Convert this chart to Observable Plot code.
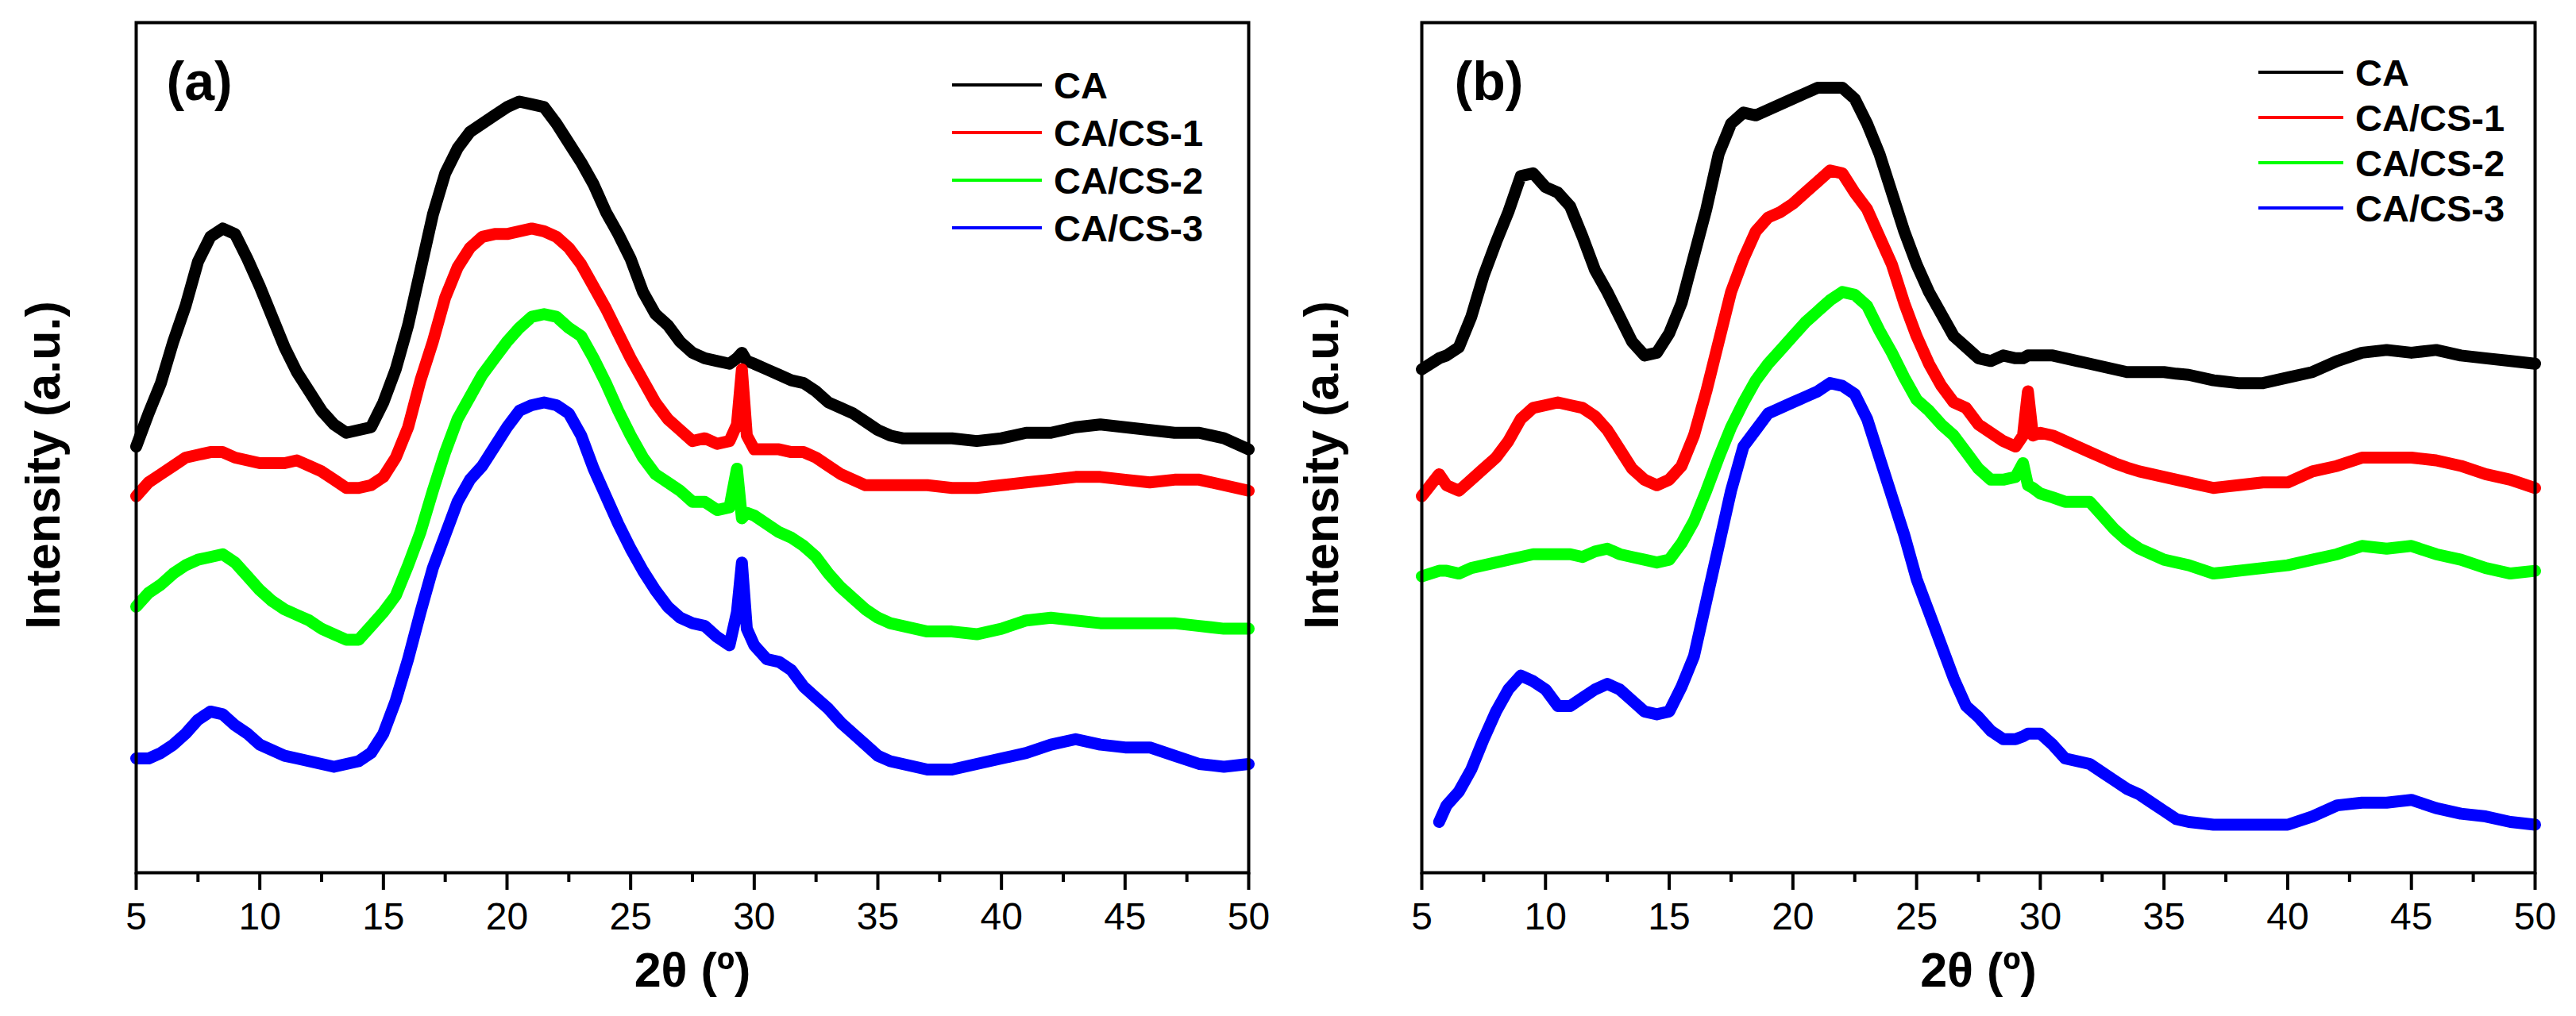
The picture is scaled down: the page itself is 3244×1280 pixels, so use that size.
<!DOCTYPE html>
<html>
<head>
<meta charset="utf-8">
<script src="https://cdn.jsdelivr.net/npm/d3@7"></script>
<script src="https://cdn.jsdelivr.net/npm/@observablehq/plot@0.6"></script>
<style>
  body { margin: 0; background: #fff; }
  #figure { display: flex; width: 3244px; }
</style>
</head>
<body>
<div id="figure"></div>
<script>
const SERIES = ["CA", "CA/CS-1", "CA/CS-2", "CA/CS-3"];
const COLORS = ["#000000", "#ff0000", "#00ff00", "#0000ff"];

const MAJOR_TICKS = [5, 10, 15, 20, 25, 30, 35, 40, 45, 50];
const MINOR_TICKS = [7.5, 12.5, 17.5, 22.5, 27.5, 32.5, 37.5, 42.5, 47.5];

// 2θ sampling; the extra points around 29.5 catch the sharp peak
const thetaA = [5, 5.5, 6, 6.5, 7, 7.5, 8, 8.5, 9, 9.5, 10, 10.5, 11, 11.5, 12, 12.5, 13, 13.5, 14, 14.5,
  15, 15.5, 16, 16.5, 17, 17.5, 18, 18.5, 19, 19.5, 20, 20.5, 21, 21.5, 22, 22.5, 23, 23.5, 24, 24.5,
  25, 25.5, 26, 26.5, 27, 27.5, 28, 28.5, 29, 29.3, 29.5, 29.7, 30, 30.5, 31, 31.5, 32, 32.5, 33, 33.5,
  34, 34.5, 35, 35.5, 36, 37, 38, 39, 40, 41, 42, 43, 44, 45, 46, 47, 48, 49, 50];

// panel (b) starts its blue trace a bit later, so 5.5 is swapped for 5.7
const thetaB = [5, 5.7, 6, 6.5, 7, 7.5, 8, 8.5, 9, 9.5, 10, 10.5, 11, 11.5, 12, 12.5, 13, 13.5, 14, 14.5,
  15, 15.5, 16, 16.5, 17, 17.5, 18, 18.5, 19, 19.5, 20, 20.5, 21, 21.5, 22, 22.5, 23, 23.5, 24, 24.5,
  25, 25.5, 26, 26.5, 27, 27.5, 28, 28.5, 29, 29.3, 29.5, 29.7, 30, 30.5, 31, 31.5, 32, 32.5, 33, 33.5,
  34, 34.5, 35, 35.5, 36, 37, 38, 39, 40, 41, 42, 43, 44, 45, 46, 47, 48, 49, 50];

// intensities (a.u., stacked offsets as in the figure)
const caA = [772, 832, 887, 962, 1027, 1107, 1152, 1167, 1157, 1112, 1062, 1007, 952, 907, 872, 837, 812, 797, 802, 807,
  852, 912, 992, 1092, 1192, 1267, 1312, 1342, 1357, 1372, 1387, 1397, 1392, 1387, 1357, 1322, 1287, 1247, 1197, 1157,
  1112, 1052, 1012, 992, 962, 942, 932, 927, 922, 932, 942, 927, 922, 912, 902, 892, 887, 872, 852, 842,
  832, 817, 802, 792, 787, 787, 787, 782, 787, 797, 797, 807, 812, 807, 802, 797, 797, 787, 767];
const cs1A = [682, 707, 722, 737, 752, 757, 762, 762, 752, 747, 742, 742, 742, 747, 737, 727, 712, 697, 697, 702,
  717, 752, 807, 892, 962, 1042, 1097, 1132, 1152, 1157, 1157, 1162, 1167, 1162, 1152, 1132, 1102, 1062, 1022, 977,
  932, 892, 852, 822, 802, 782, 787, 777, 782, 812, 912, 792, 767, 767, 767, 762, 762, 752, 737, 722,
  712, 702, 702, 702, 702, 702, 697, 697, 702, 707, 712, 717, 717, 712, 707, 712, 712, 702, 692];
const cs2A = [482, 507, 522, 542, 557, 567, 572, 577, 562, 537, 512, 492, 477, 467, 457, 442, 432, 422, 422, 447,
  472, 502, 557, 617, 692, 762, 822, 862, 902, 932, 962, 987, 1007, 1012, 1007, 987, 972, 932, 887, 837,
  792, 752, 722, 707, 692, 672, 672, 657, 662, 732, 642, 652, 647, 632, 617, 607, 592, 572, 542, 517,
  497, 477, 462, 452, 447, 437, 437, 432, 442, 457, 462, 457, 452, 452, 452, 452, 447, 442, 442];
const cs3A = [207, 207, 217, 232, 252, 277, 292, 287, 267, 252, 232, 222, 212, 207, 202, 197, 192, 197, 202, 217,
  252, 312, 387, 472, 552, 612, 672, 712, 737, 772, 807, 837, 847, 852, 847, 832, 792, 732, 682, 632,
  587, 547, 512, 482, 462, 452, 447, 427, 412, 472, 562, 442, 412, 387, 382, 367, 337, 317, 297, 272,
  252, 232, 212, 202, 197, 187, 187, 197, 207, 217, 232, 242, 232, 227, 227, 212, 197, 192, 197];

const caB = [912, 932, 937, 952, 1007, 1082, 1142, 1197, 1262, 1267, 1242, 1232, 1207, 1152, 1092, 1052, 1007, 962, 937, 942,
  977, 1032, 1117, 1202, 1302, 1357, 1377, 1372, 1382, 1392, 1402, 1412, 1422, 1422, 1422, 1402, 1357, 1302, 1232, 1162,
  1102, 1052, 1012, 972, 952, 932, 927, 937, 932, 932, 937, 937, 937, 937, 932, 927, 922, 917, 912, 907,
  907, 907, 907, 904, 902, 892, 887, 887, 897, 907, 927, 942, 947, 942, 947, 937, 932, 927, 922];
const cs1B = [682, 722, 702, 692, 712, 732, 752, 782, 822, 842, 847, 852, 847, 842, 827, 802, 767, 732, 712, 702,
  712, 737, 792, 872, 962, 1052, 1112, 1162, 1187, 1197, 1212, 1232, 1252, 1272, 1267, 1232, 1202, 1152, 1102, 1032,
  972, 922, 882, 852, 842, 812, 797, 782, 772, 792, 872, 792, 797, 792, 782, 772, 762, 752, 742, 734,
  727, 722, 717, 712, 707, 697, 702, 707, 707, 727, 737, 752, 752, 752, 747, 737, 722, 712, 697];
const cs2B = [537, 547, 547, 542, 552, 557, 562, 567, 572, 577, 577, 577, 577, 572, 582, 587, 577, 572, 567, 562,
  567, 597, 637, 692, 752, 807, 852, 892, 922, 947, 972, 997, 1017, 1037, 1052, 1047, 1027, 982, 942, 897,
  857, 837, 812, 792, 762, 732, 712, 712, 717, 742, 702, 697, 687, 680, 672, 672, 672, 647, 622, 602,
  587, 577, 567, 562, 557, 542, 547, 552, 557, 567, 577, 592, 587, 592, 577, 567, 552, 542, 547];
const cs3B = [null, 92, 122, 147, 187, 242, 292, 332, 357, 347, 332, 302, 302, 317, 332, 342, 332, 312, 292, 287,
  292, 337, 392, 492, 592, 692, 772, 802, 832, 842, 852, 862, 872, 887, 882, 867, 822, 752, 682, 612,
  532, 472, 412, 352, 302, 282, 257, 242, 242, 247, 252, 252, 252, 232, 207, 202, 197, 182, 167, 152,
  142, 127, 112, 97, 92, 87, 87, 87, 87, 102, 122, 127, 127, 132, 117, 107, 102, 92, 87];


const FONT = "'Liberation Sans', Arial, Helvetica, sans-serif";

function plotPanel(p) {

    let rows = [];
    p.series.forEach((vals, i) => {
        vals.forEach((v, j) => {
            if (v != null) rows.push({ theta: p.theta[j], intensity: v, name: SERIES[i] });
        });
    });

    let chart = Plot.plot({
        width: 1622,
        height: 1280,
        marginLeft: p.marginLeft,
        marginRight: p.marginRight,
        marginTop: 28,
        marginBottom: 181,
        style: { fontFamily: FONT, background: "white", color: "black" },
        x: { domain: [5, 50] },
        y: { domain: [0, 1540], axis: null },
        color: { domain: SERIES, range: COLORS },
        marks: [
            Plot.line(rows, { x: "theta", y: "intensity", z: "name", stroke: "name", strokeWidth: 15, strokeLinejoin: "round" }),
            Plot.frame({ stroke: "black", strokeWidth: 4 }),
            Plot.axisX(MAJOR_TICKS, { tickSize: 22, tickPadding: 15, fontSize: 48, strokeWidth: 4, label: null, tickFormat: d => String(d) }),
            Plot.axisX(MINOR_TICKS, { tickSize: 12, strokeWidth: 4, fill: "none", label: null }),
            Plot.text(["2θ (º)"], { frameAnchor: "bottom", lineAnchor: "bottom", dy: 143, fontSize: 61, fontWeight: "bold" }),
            Plot.text(["Intensity (a.u.)"], { frameAnchor: "left", textAnchor: "middle", lineAnchor: "middle", rotate: -90, dx: p.yTitleDx, dy: 22, fontSize: 61, fontWeight: "bold" }),
            Plot.text([p.label], { frameAnchor: "top-left", textAnchor: "start", lineAnchor: "bottom", dx: p.labelDx, dy: 97, fontSize: 68, fontWeight: "bold" })
        ]
    });

    // legend: short coloured line + bold name, top right inside the frame
    let lg = p.legend;
    let g = d3.select(chart).append("g")
        .attr("font-family", FONT).attr("font-weight", "bold").attr("font-size", 47)
        .attr("text-anchor", "start");
    SERIES.forEach((name, i) => {
        let y = 28 + lg.top + i * lg.gap;
        let x0 = p.marginLeft + lg.left;
        g.append("line")
            .attr("x1", x0).attr("x2", x0 + lg.len)
            .attr("y1", y).attr("y2", y)
            .attr("stroke", COLORS[i]).attr("stroke-width", 4);
        g.append("text")
            .attr("x", x0 + lg.textDx).attr("y", y + 17)
            .attr("fill", "black")
            .text(name);
    });

    return chart;
}

let fig = document.getElementById("figure");
fig.append(plotPanel({
    label: "(a)", theta: thetaA, series: [caA, cs1A, cs2A, cs3A],
    marginLeft: 171, marginRight: 50, yTitleDx: -116, labelDx: 38,
    legend: { left: 1028, top: 79, gap: 60, len: 113, textDx: 128 }
}));
fig.append(plotPanel({
    label: "(b)", theta: thetaB, series: [caB, cs1B, cs2B, cs3B],
    marginLeft: 168, marginRight: 52, yTitleDx: -125, labelDx: 41,
    legend: { left: 1054, top: 63, gap: 57, len: 107, textDx: 122 }
}));
</script>
</body>
</html>
